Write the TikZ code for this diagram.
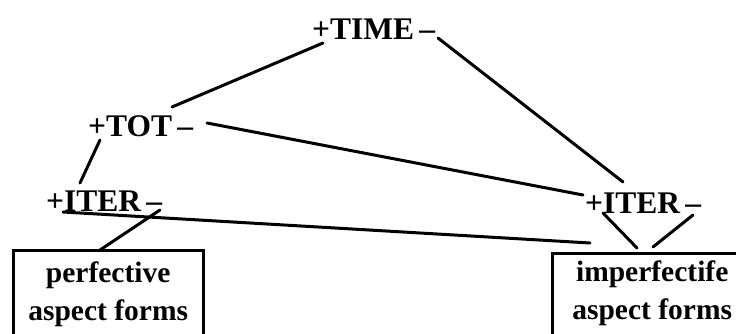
\documentclass[tikz,border=0pt]{standalone}
\usepackage{fontspec}
\setmainfont{Liberation Serif}
\begin{document}
\begin{tikzpicture}[x=1pt,y=-1pt,
  lbl/.style={inner sep=0pt, anchor=base west, font=\bfseries\fontsize{31.5}{36}\selectfont},
  boxn/.style={inner sep=0pt, anchor=north west, align=center, font=\bfseries\fontsize{29.5}{38}\selectfont},
  con/.style={line width=3pt, line cap=round},
  frame/.style={line width=3pt}]
\useasboundingbox (0,0) rectangle (736,334);
\fill[white] (0,0) rectangle (736,334);
\clip (0,0) rectangle (736,334);
% labels
\node[lbl] (time)  at (312,40)  {+TIME\,–};
\node[lbl] (tot)   at (88,136)  {+TOT\,–};
\node[lbl] (iterL) at (46,211)  {+ITER\,–};
\node[lbl] (iterR) at (585,213) {+ITER\,–};
% boxes
\node[boxn, minimum width=190pt, minimum height=88pt] (boxL) at (13,250) {perfective\\aspect forms};
\node[boxn, minimum width=200pt, minimum height=80pt] (boxR) at (552,253) {imperfectife\\aspect forms};
\draw[frame] ([yshift=-30pt]boxL.south west) -- (boxL.north west) -- (boxL.north east) -- ([yshift=-30pt]boxL.south east);
\draw[frame] ([yshift=-30pt]boxR.south west) -- (boxR.north west) -- (boxR.north east) -- ([yshift=-30pt]boxR.south east);
% connectors
\draw[con] ([shift={(11,3)}]time.base west) -- ([shift={(84,-29)}]tot.base west);
\draw[con] ([shift={(126,-2)}]time.base west) -- ([shift={(38,-31)}]iterR.base west);
\draw[con] ([shift={(119,-13)}]tot.base west) -- ([shift={(-2,-18)}]iterR.base west);
\draw[con] ([shift={(12,4)}]tot.base west) -- ([shift={(34,-28)}]iterL.base west);
\draw[con] ([shift={(17,1)}]iterL.base west) -- ([shift={(38,-10)}]boxR.north west);
\draw[con] ([shift={(114,-1)}]iterL.base west) -- ([shift={(87,0)}]boxL.north west);
\draw[con] ([shift={(18,0)}]iterR.base west) -- ([shift={(85,-5)}]boxR.north west);
\draw[con] ([shift={(108,2)}]iterR.base west) -- ([shift={(101,-6)}]boxR.north west);
\end{tikzpicture}
\end{document}
